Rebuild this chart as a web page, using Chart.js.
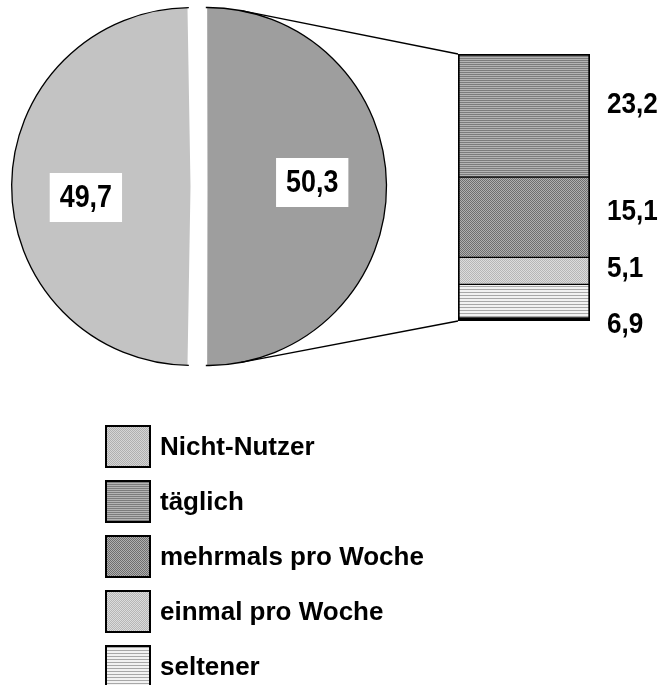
<!DOCTYPE html>
<html lang="de">
<head>
<meta charset="utf-8">
<script src="https://cdn.jsdelivr.net/npm/chart.js@4.4.0/dist/chart.umd.min.js"></script>
<style>
  html, body { margin: 0; padding: 0; background: #fff; }
  body { width: 660px; height: 685px; position: relative; overflow: hidden; font-family: 'Liberation Sans', Arial, sans-serif; }
  #pie { position: absolute; left: 0; top: 0; }
  #bar { position: absolute; left: 440px; top: 40px; }
  #leaders { position: absolute; left: 0; top: 0; pointer-events: none; }
  #legend { position: absolute; left: 105px; top: 425px; }
  .item { display: flex; align-items: center; height: 43px; margin-bottom: 12px; }
  .swatch { width: 46px; height: 43px; box-sizing: border-box; border: 2px solid #000; image-rendering: pixelated; }
  .item span { margin-left: 9px; font-weight: bold; font-size: 26px; color: #000; }
</style>
</head>
<body>
<canvas id="pie" width="398" height="373"></canvas>
<canvas id="bar" width="220" height="300"></canvas>
<canvas id="leaders" width="660" height="685"></canvas>
<div id="legend"></div>
<script>
// Nutzer / Nicht-Nutzer (Anteile in %)
const pieLabels = ['Nutzer', 'Nicht-Nutzer'];
const pieValues = [50.3, 49.7];
const pieTexts = ['50,3', '49,7'];

// Aufschlüsselung der Nutzer, von unten nach oben gestapelt
const barLabels = ['seltener', 'einmal pro Woche', 'mehrmals pro Woche', 'täglich'];
const barValues = [6.9, 5.1, 15.1, 23.2];
const barTexts = ['6,9', '5,1', '15,1', '23,2'];

// Reihenfolge der Legende
const legendLabels = ['Nicht-Nutzer', 'täglich', 'mehrmals pro Woche', 'einmal pro Woche', 'seltener'];

const FONT = "'Liberation Sans', Arial, sans-serif";
const PIE_OFFSET = 34;
const PIE_RADIUS = 179;

// Schraffur-Kacheln (pixelweise)
function makeTile(rows) {
    const c = document.createElement('canvas');
    c.width = rows[0].length;
    c.height = rows.length;
    const ctx = c.getContext('2d');
    rows.forEach((row, y) => row.forEach((col, x) => {
        ctx.fillStyle = col;
        ctx.fillRect(x, y, 1, 1);
    }));
    return c;
}

const tiles = {
    'Nicht-Nutzer': makeTile([['#b0b0b0', '#d6d6d6'], ['#d6d6d6', '#b0b0b0']]),
    'Nutzer': makeTile([['#5a5a5a', '#e2e2e2'], ['#e2e2e2', '#5a5a5a']]),
    'täglich': makeTile([['#7c7c7c'], ['#b4b4b4']]),
    'mehrmals pro Woche': makeTile([['#6e6e6e', '#b0b0b0'], ['#b0b0b0', '#6e6e6e']]),
    'einmal pro Woche': makeTile([['#b6b6b6', '#dcdcdc'], ['#dcdcdc', '#b6b6b6']]),
    'seltener': makeTile([['#a8a8a8'], ['#f2f2f2'], ['#f2f2f2']])
};

const patternCtx = document.createElement('canvas').getContext('2d');
function pattern(name) {
    return patternCtx.createPattern(tiles[name], 'repeat');
}

// Verschiebung und sichtbarer Radius eines herausgezogenen Segments (wie ArcElement.draw)
function arcGeom(arc) {
    const p = arc.getProps(['x', 'y', 'startAngle', 'endAngle', 'outerRadius', 'circumference']);
    const shift = (arc.options.offset || 0) / 4;
    const fix = 1 - Math.sin(Math.min(Math.PI, p.circumference || 0));
    const mid = (p.startAngle + p.endAngle) / 2;
    return {
        mid,
        start: p.startAngle,
        end: p.endAngle,
        x: p.x + Math.cos(mid) * shift,
        y: p.y + Math.sin(mid) * shift,
        r: p.outerRadius + shift * fix
    };
}

// schmal gesetzte Zahl (Arial Narrow ersetzt)
function narrowText(ctx, text, x, y, size, squeeze, align) {
    ctx.save();
    ctx.font = 'bold ' + size + 'px ' + FONT;
    ctx.textAlign = align;
    ctx.textBaseline = 'middle';
    ctx.translate(x, y);
    ctx.scale(squeeze, 1);
    ctx.fillText(text, 0, 0);
    ctx.restore();
}

// Umriss + weiße Wertekästchen im Kreis
const pieTextPlugin = {
    id: 'pieText',
    afterDatasetsDraw(chart) {
        const ctx = chart.ctx;
        const nudge = [-4, 11];
        chart.getDatasetMeta(0).data.forEach((arc, i) => {
            const g = arcGeom(arc);

            ctx.save();
            ctx.beginPath();
            ctx.arc(g.x, g.y, g.r, g.start, g.end);
            ctx.lineWidth = 1.3;
            ctx.strokeStyle = '#000';
            ctx.stroke();

            const lx = g.x + Math.cos(g.mid) * g.r * 0.585;
            const ly = g.y + Math.sin(g.mid) * g.r * 0.585 + nudge[i];
            ctx.font = 'bold 32px ' + FONT;
            const w = ctx.measureText(pieTexts[i]).width * 0.84 + 20;
            const h = 49;
            ctx.fillStyle = '#fff';
            ctx.fillRect(lx - w / 2, ly - h / 2, w, h);
            ctx.fillStyle = '#000';
            narrowText(ctx, pieTexts[i], lx, ly + 1, 32, 0.84, 'center');
            ctx.restore();
        });
    }
};

// Werte rechts neben der Säule
const barTextPlugin = {
    id: 'barText',
    afterDatasetsDraw(chart) {
        const ctx = chart.ctx;
        const nudge = [22, -2, -5, -11];
        ctx.save();
        ctx.fillStyle = '#000';
        barLabels.forEach((l, i) => {
            const el = chart.getDatasetMeta(i).data[0];
            const x = el.x + el.width / 2 + 17;
            const y = (el.y + el.base) / 2 + nudge[i];
            narrowText(ctx, barTexts[i], x, y, 30, 0.87, 'left');
        });
        ctx.restore();
    }
};

const userShare = pieValues[0] / (pieValues[0] + pieValues[1]) * 360;

const pieChart = new Chart(document.getElementById('pie'), {
    type: 'pie',
    data: {
        labels: pieLabels,
        datasets: [{
            data: pieValues,
            backgroundColor: pieLabels.map(pattern),
            borderWidth: 0,
            offset: PIE_OFFSET
        }]
    },
    options: {
        responsive: false,
        animation: false,
        devicePixelRatio: 1,
        rotation: -(userShare - 180) / 2,
        // Chart.js vergrößert herausgezogene Segmente um offset/4
        radius: PIE_RADIUS - PIE_OFFSET / 4,
        layout: { padding: 0 },
        plugins: {
            legend: { display: false },
            tooltip: { enabled: false }
        }
    },
    plugins: [pieTextPlugin]
});

const barChart = new Chart(document.getElementById('bar'), {
    type: 'bar',
    data: {
        labels: ['Nutzer'],
        datasets: barLabels.map((l, i) => ({
            label: l,
            data: [barValues[i]],
            backgroundColor: pattern(l),
            borderColor: '#000',
            borderWidth: {
                left: 2,
                right: 2,
                top: i === barLabels.length - 1 ? 2 : 1,
                bottom: i === 0 ? 4 : 1
            },
            borderSkipped: false,
            barPercentage: 1,
            categoryPercentage: 1
        }))
    },
    options: {
        responsive: false,
        animation: false,
        devicePixelRatio: 1,
        layout: { padding: { left: 18, right: 70, top: 14, bottom: 19 } },
        scales: {
            x: { stacked: true, display: false },
            y: { stacked: true, display: false, min: 0, max: barValues.reduce((a, b) => a + b, 0) }
        },
        plugins: {
            legend: { display: false },
            tooltip: { enabled: false }
        }
    },
    plugins: [barTextPlugin]
});

// Verbindungslinien vom Kreissegment zur Säule (Tangenten)
function drawLeaders() {
    const ctx = document.getElementById('leaders').getContext('2d');
    const pieEl = document.getElementById('pie');
    const barEl = document.getElementById('bar');

    const g = arcGeom(pieChart.getDatasetMeta(0).data[0]);
    const C = { x: pieEl.offsetLeft + g.x, y: pieEl.offsetTop + g.y };

    const topBar = barChart.getDatasetMeta(barLabels.length - 1).data[0];
    const bottomBar = barChart.getDatasetMeta(0).data[0];
    const corners = [
        { x: barEl.offsetLeft + topBar.x - topBar.width / 2, y: barEl.offsetTop + topBar.y, sign: -1 },
        { x: barEl.offsetLeft + bottomBar.x - bottomBar.width / 2, y: barEl.offsetTop + bottomBar.base, sign: 1 }
    ];

    ctx.strokeStyle = '#000';
    ctx.lineWidth = 1.3;
    corners.forEach(P => {
        const dx = P.x - C.x, dy = P.y - C.y;
        const d = Math.hypot(dx, dy);
        const phi = Math.atan2(dy, dx);
        const t = phi + P.sign * Math.acos(g.r / d);
        ctx.beginPath();
        ctx.moveTo(C.x + Math.cos(t) * g.r, C.y + Math.sin(t) * g.r);
        ctx.lineTo(P.x, P.y);
        ctx.stroke();
    });
}
drawLeaders();

// Legende
const legend = document.getElementById('legend');
legendLabels.forEach(l => {
    const item = document.createElement('div');
    item.className = 'item';
    const sw = document.createElement('div');
    sw.className = 'swatch';
    sw.style.backgroundImage = 'url(' + tiles[l].toDataURL() + ')';
    const txt = document.createElement('span');
    txt.textContent = l;
    item.appendChild(sw);
    item.appendChild(txt);
    legend.appendChild(item);
});
</script>
</body>
</html>
